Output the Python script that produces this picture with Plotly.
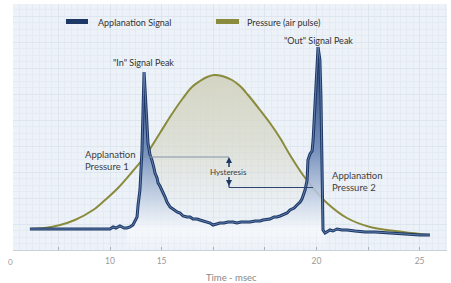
import plotly.graph_objects as go

# ---------------- data (time in msec on the chart's own scale, amplitude in a.u.)
sig_t = [1.12, 2.09, 3.06, 4.03, 5.00, 5.15, 5.29, 5.48, 5.68, 5.82, 5.97, 6.11, 6.21, 6.31, 6.36,
         6.45, 6.50, 6.55, 6.60, 6.65, 6.70, 6.74, 6.79, 6.84, 6.94, 7.03, 7.13, 7.18, 7.28, 7.33,
         7.42, 7.52, 7.62, 7.67, 7.76, 7.91, 8.05, 8.25, 8.39, 8.54, 8.73, 8.88, 9.02, 9.22, 9.36,
         9.51, 9.70, 9.85, 9.99, 10.14, 10.33, 10.52, 10.72, 10.96, 11.15, 11.35, 11.54, 11.78, 12.03, 12.27,
         12.41, 12.61, 12.75, 12.95, 13.09, 13.24, 13.43, 13.58, 13.72, 13.92, 14.06, 14.21, 14.30, 14.45, 14.55,
         14.59, 14.69, 14.79, 14.84, 14.93, 15.03, 15.08, 15.17, 15.22, 15.27, 15.32, 15.42, 15.51, 15.66, 15.80,
         16.00, 16.24, 16.48, 16.87, 17.36, 17.84, 18.57, 19.05, 19.54, 20.02, 20.50]
sig_v = [21, 21, 21, 21, 21, 23, 22, 24, 22, 22, 23, 25, 29, 33, 45,
         60, 80, 100, 140, 178, 160, 143, 125, 107, 95, 90, 82, 77, 72, 67,
         64, 60, 55, 53, 48, 43, 41, 38, 37, 34, 33, 33, 31, 31, 30,
         29, 28, 27, 25, 26, 27, 27, 28, 28, 27, 28, 28, 28, 29, 29,
         30, 31, 31, 33, 33, 34, 36, 37, 40, 42, 45, 48, 51, 60, 70,
         90, 96, 99, 110, 150, 180, 203, 190, 153, 87, 20, 17, 18, 20, 19,
         21, 20, 20, 19, 18, 18, 17, 16, 15, 15, 15]

pres_t = [1.12, 1.85, 2.58, 3.30, 4.18, 4.76, 5.39, 6.07, 6.74, 7.42, 8.00, 8.54, 8.97, 9.36, 9.70,
          10.04, 10.43, 10.91, 11.30, 11.69, 12.27, 12.75, 13.24, 13.72, 14.35, 14.84, 15.51, 16.48,
          17.60, 19.20, 20.50]
pres_v = [21, 22, 25, 30, 40, 50, 62, 78, 95, 117, 136, 152, 163, 169, 173,
          175, 174, 170, 164, 155, 140, 127, 112, 95, 75, 62, 47, 32, 23, 18, 15]

tick_vals = [2.5, 5, 7.5, 10, 12.5, 15, 17.5, 20]
tick_text = ["", "10", "15", "", "", "20", "", "25"]

series_names = ["Applanation Signal", "Pressure (air pulse)"]

NAVY = "#1d3866"
OLIVE = "#8a8b3c"
FONT = "Lato"

W, H = 451, 283
ML, MR, MT, MB = 13, 4, 4, 33

# pixel -> axis helpers (used only for labels / decorations)
def px2x(px):
    return (px - 6.8) / 20.64

def py2y(py):
    return 250 - py

def px2paper(px):
    return (px - ML) / (W - ML - MR)

def py2paper(py):
    return (H - MB - py) / (H - MB - MT)

fig = go.Figure()

# pressure fill between the two signal peaks
pf_t = [t for t in pres_t if 6.74 <= t <= 14.84]
pf_v = [v for t, v in zip(pres_t, pres_v) if 6.74 <= t <= 14.84]
fig.add_trace(go.Scatter(
    x=pf_t, y=pf_v, mode="lines", line=dict(width=0, shape="spline"), fill="tozeroy",
    fillgradient=dict(type="vertical", start=0, stop=175,
                      colorscale=[[0, "rgba(214,215,198,0)"], [0.25, "rgba(214,215,198,0.05)"],
                                  [0.6, "rgba(214,215,198,0.65)"], [1, "rgba(210,211,192,0.95)"]]),
    hoverinfo="skip", showlegend=False))

# pressure line
fig.add_trace(go.Scatter(x=pres_t, y=pres_v, mode="lines", name=series_names[1],
                         line=dict(color=OLIVE, width=2, shape="spline", smoothing=1.0), showlegend=False))

# signal fill (peaks region)
sf_t = [t for t in sig_t if 5.82 <= t <= 15.42]
sf_v = [v for t, v in zip(sig_t, sig_v) if 5.82 <= t <= 15.42]
fig.add_trace(go.Scatter(
    x=sf_t, y=sf_v, mode="lines", line=dict(width=0), fill="tozeroy",
    fillgradient=dict(type="vertical", start=0, stop=203,
                      colorscale=[[0, "rgba(255,255,255,0)"], [0.1, "rgba(248,250,253,0.7)"],
                                  [0.25, "rgba(195,208,228,0.85)"], [0.5, "rgba(110,138,185,0.95)"],
                                  [1, "rgba(35,62,110,1)"]]),
    hoverinfo="skip", showlegend=False))

# signal line (tube look)
fig.add_trace(go.Scatter(x=sig_t, y=sig_v, mode="lines", name=series_names[0],
                         line=dict(color=NAVY, width=3), showlegend=False))
fig.add_trace(go.Scatter(x=sig_t, y=sig_v, mode="lines", line=dict(color="#6f8dbb", width=0.8),
                         hoverinfo="skip", showlegend=False))

shapes = []
# legend swatches
shapes.append(dict(type="line", xref="x", yref="y", x0=px2x(66), x1=px2x(88), y0=py2y(21.5), y1=py2y(21.5),
                   line=dict(color=NAVY, width=5)))
shapes.append(dict(type="line", xref="x", yref="y", x0=px2x(216), x1=px2x(239), y0=py2y(21.5), y1=py2y(21.5),
                   line=dict(color=OLIVE, width=5)))
# hysteresis markers
shapes.append(dict(type="line", xref="x", yref="y", x0=px2x(146), x1=px2x(229), y0=py2y(157), y1=py2y(157),
                   line=dict(color="#8592a6", width=1)))
shapes.append(dict(type="line", xref="x", yref="y", x0=px2x(229), x1=px2x(229), y0=py2y(162), y1=py2y(167),
                   line=dict(color=NAVY, width=1.5)))
shapes.append(dict(type="path", xref="x", yref="y",
                   path=f"M {px2x(229)} {py2y(157)} L {px2x(226)} {py2y(163)} L {px2x(232)} {py2y(163)} Z",
                   fillcolor=NAVY, line=dict(width=0)))
shapes.append(dict(type="line", xref="x", yref="y", x0=px2x(229), x1=px2x(229), y0=py2y(177), y1=py2y(181),
                   line=dict(color=NAVY, width=1.5)))
shapes.append(dict(type="path", xref="x", yref="y",
                   path=f"M {px2x(229)} {py2y(186)} L {px2x(226)} {py2y(180)} L {px2x(232)} {py2y(180)} Z",
                   fillcolor=NAVY, line=dict(width=0)))
shapes.append(dict(type="line", xref="x", yref="y", x0=px2x(229), x1=px2x(229), y0=py2y(184), y1=py2y(187.5),
                   line=dict(color="#2d4470", width=1.2)))
shapes.append(dict(type="line", xref="x", yref="y", x0=px2x(229), x1=px2x(313), y0=py2y(187.5), y1=py2y(187.5),
                   line=dict(color="#2d4470", width=1.2)))

def ann(text, px, py, xanchor="center", size=9, color="#333333", align="left"):
    return dict(text=text, x=px2x(px), y=py2y(py), xref="x", yref="y", xanchor=xanchor, yanchor="middle",
                showarrow=False, align=align, font=dict(family=FONT, size=size, color=color))

def pann(text, px, py, size=8.5, color="#8a8a8a"):
    return dict(text=text, x=px2paper(px), y=py2paper(py), xref="paper", yref="paper", xanchor="center",
                yanchor="middle", showarrow=False, font=dict(family=FONT, size=size, color=color))

annotations = [
    ann(series_names[0], 96, 22, "left", size=9),
    ann(series_names[1], 245, 22, "left", size=9),
    ann('"In" Signal Peak', 143, 62.5, size=9),
    ann('"Out" Signal Peak', 318, 40, size=9),
    ann("Applanation<br>Pressure 1", 83, 160, "left", size=9.5, color="#3d3d3d"),
    ann("Hysteresis", 228, 172, size=8, color="#3d3d3d"),
    ann("Applanation<br>Pressure 2", 330, 181, "left", size=9.5, color="#3d3d3d"),
    pann("0", 10.5, 262, size=8, color="#9a9a9a"),
    pann("Time - msec", 231, 277, size=9.5, color="#888888"),
]

fig.update_layout(
    width=W, height=H,
    margin=dict(l=ML, r=MR, t=MT, b=MB),
    paper_bgcolor="white", plot_bgcolor="#edf2f8",
    shapes=shapes, annotations=annotations, showlegend=False,
    font=dict(family=FONT, size=8, color="#9a9a9a"),
)
fig.update_xaxes(range=[px2x(13), px2x(447)], tickvals=tick_vals, ticktext=tick_text,
                 ticks="inside", ticklen=3, tickcolor="#a8b0ba", tickwidth=1, automargin=False,
                 showline=True, linecolor="#c9d1da", linewidth=1, zeroline=False,
                 showgrid=True, gridcolor="#dde6ef", gridwidth=1,
                 minor=dict(dtick=2.5 / 8, tick0=0, showgrid=True, gridcolor="#e4ebf3", gridwidth=1),
                 tickfont=dict(family=FONT, size=8.5, color="#9a9a9a"), ticklabelstandoff=3)
fig.update_yaxes(range=[0, 246], showticklabels=False, zeroline=False, showline=False, automargin=False,
                 showgrid=True, gridcolor="#dde6ef", dtick=26, tick0=0,
                 minor=dict(dtick=6.5, tick0=0, showgrid=True, gridcolor="#e4ebf3", gridwidth=1))

fig.write_html("out.html", config={"displayModeBar": False},
               post_script="document.body.style.margin='0';document.body.style.padding='0';")
